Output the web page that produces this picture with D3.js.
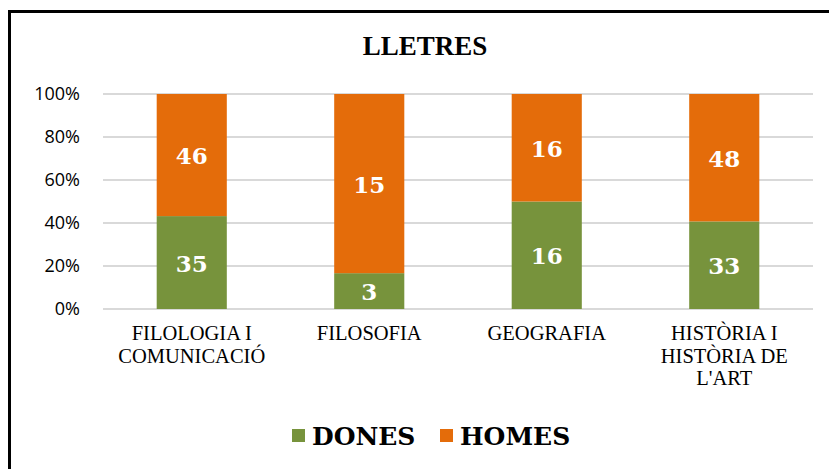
<!DOCTYPE html>
<html><head><meta charset="utf-8">
<script src="https://cdn.jsdelivr.net/npm/d3@7"></script>
<style>body{margin:0;background:#fff}svg{display:block}</style>
</head><body>
<svg id="c" width="829" height="469"></svg>
<script>
const categories = [["FILOLOGIA I","COMUNICACIÓ"],["FILOSOFIA"],["GEOGRAFIA"],["HISTÒRIA I","HISTÒRIA DE","L'ART"]];
const dones = [35, 3, 16, 33];
const homes = [46, 15, 16, 48];
const yTicks = [0, 0.2, 0.4, 0.6, 0.8, 1.0];
const seriesNames = ["DONES", "HOMES"];
const colors = ["#77933C", "#E46C0A"];

(function(){
const svg = d3.select("#c");
const serif = "'Liberation Serif', 'DejaVu Serif', serif";
svg.append("path").attr("d","M9.5,469 V11.5 H829").attr("fill","none").attr("stroke","#000").attr("stroke-width",3);

svg.append("text").attr("x",425).attr("y",55).attr("text-anchor","middle")
  .style("font-family",serif).style("font-weight","bold").style("font-size","27px").text("LLETRES");

const pLeft = 103, pRight = 813, pTop = 94, pBottom = 309;
const keys = categories.map((c,i)=>i);
const x = d3.scaleBand().domain(keys).range([pLeft,pRight]).paddingInner(0.605).paddingOuter(0.3025);
const y = d3.scaleLinear().domain([0,1]).range([pBottom,pTop]);

svg.append("g").selectAll("line").data(yTicks).join("line")
  .attr("x1",pLeft).attr("x2",pRight).attr("y1",d=>y(d)).attr("y2",d=>y(d))
  .attr("stroke","#D9D9D9").attr("stroke-width",2);

const yAxis = d3.axisLeft(y).tickValues(yTicks).tickFormat(d3.format(".0%")).tickSize(0).tickPadding(23);
const ya = svg.append("g").attr("transform",`translate(${pLeft},0)`).call(yAxis);
ya.select(".domain").remove();
ya.selectAll("text").style("font-family","'Open Sans', sans-serif").style("font-size","18px").attr("fill","#000");

const data = keys.map(i=>({i, d:dones[i], h:homes[i], t:dones[i]+homes[i]}));
const stackData = data.map(o=>({i:o.i, DONES:o.d/o.t, HOMES:o.h/o.t, raw:[o.d,o.h]}));
const stacked = d3.stack().keys(seriesNames)(stackData);

stacked.forEach((layer,si)=>{
  const gg = svg.append("g");
  gg.selectAll("rect").data(layer).join("rect")
    .attr("x",d=>x(d.data.i)).attr("width",x.bandwidth())
    .attr("y",d=>y(d[1])).attr("height",d=>y(d[0])-y(d[1]))
    .attr("fill",colors[si]);
  gg.selectAll("text").data(layer).join("text")
    .attr("x",d=>x(d.data.i)+x.bandwidth()/2)
    .attr("y",d=>(y(d[0])+y(d[1]))/2+9)
    .attr("text-anchor","middle").attr("fill","#fff")
    .style("font-family","'DejaVu Serif', serif").style("font-weight","bold").style("font-size","23px")
    .text(d=>d.data.raw[si]);
});

const xa = svg.append("g");
data.forEach(o=>{
  const cx = x(o.i)+x.bandwidth()/2;
  const t = xa.append("text").attr("x",cx).attr("y",340)
    .attr("text-anchor","middle").style("font-family",serif).style("font-size","20.5px").attr("fill","#000");
  categories[o.i].forEach((line,k)=>{
    t.append("tspan").attr("x",cx).attr("dy",k===0?0:22.5).text(line);
  });
});

const legX = [292, 440];
seriesNames.forEach((n,i)=>{
  svg.append("rect").attr("x",legX[i]).attr("y",429).attr("width",13).attr("height",13).attr("fill",colors[i]);
  svg.append("text").attr("x",legX[i]+20).attr("y",445)
    .style("font-family","'DejaVu Serif', serif").style("font-weight","bold").style("font-size","25px").text(n);
});
})();
</script>
</body></html>
